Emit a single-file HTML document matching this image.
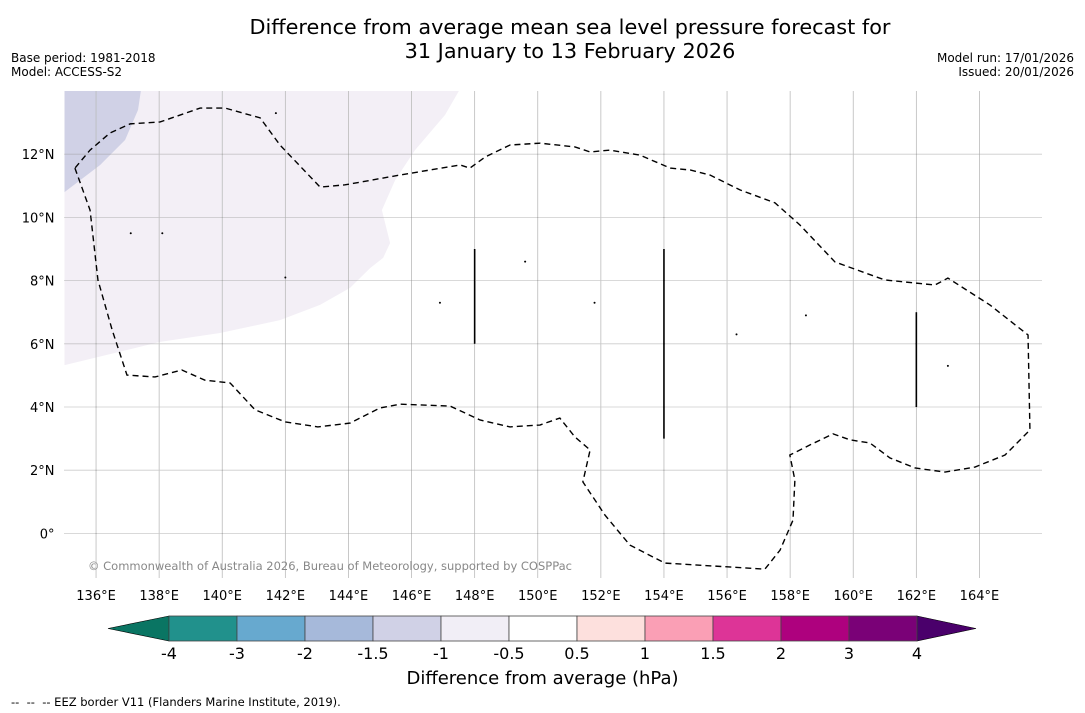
<!DOCTYPE html>
<html><head><meta charset="utf-8"><style>
body{margin:0;background:#fff;font-family:"DejaVu Sans","Liberation Sans",sans-serif;}
.wrap{position:relative;width:1085px;height:713px;overflow:hidden;}
.t{position:absolute;white-space:nowrap;color:#000;}
</style></head><body>
<div class="wrap">
<div class="t" style="left:0;width:1140px;top:15px;text-align:center;font-size:20.8px;line-height:24px;">Difference from average mean sea level pressure forecast for<br>31 January to 13 February 2026</div>
<div class="t" style="left:11px;top:51px;font-size:12px;line-height:14px;">Base period: 1981-2018<br>Model: ACCESS-S2</div>
<div class="t" style="right:11px;top:51px;font-size:12px;line-height:14px;text-align:right;">Model run: 17/01/2026<br>Issued: 20/01/2026</div>
<svg id="map" width="1085" height="713" style="position:absolute;left:0;top:0"></svg>
<div class="t" style="left:0;width:1085px;text-align:center;top:668px;font-size:18px;">Difference from average (hPa)</div>
<div class="t" style="left:11px;top:695px;font-size:11.5px;">--&nbsp; --&nbsp; -- EEZ border V11 (Flanders Marine Institute, 2019).</div>
</div>
<script>
const lonTicks=[136,138,140,142,144,146,148,150,152,154,156,158,160,162,164];
const latTicks=[0,2,4,6,8,10,12];
const lightLon=[147.5,147.06,146.11,145.48,145.06,145.32,145.10,144.69,144.05,143.10,141.83,139.93,138.03,135.02,135,135];
const lightLat=[14,13.24,12.13,11.18,10.23,9.19,8.72,8.40,7.77,7.23,6.75,6.34,6.06,5.33,5.33,14];
const darkLon=[137.42,137.33,136.92,136.13,135,135];
const darkLat=[14,13.40,12.45,11.66,10.80,14];
const eezLon=[135.33,135.81,136.06,136.51,136.98,137.87,138.72,139.45,140.25,141.04,141.99,143.03,144.05,145.00,145.63,147.22,148.17,149.12,150.07,150.70,151.18,151.66,151.43,152.13,152.92,154.03,157.20,157.68,158.09,158.15,157.99,158.63,159.36,159.90,160.53,161.16,161.96,162.91,163.86,164.81,165.60,165.54,164.33,163.00,162.59,161.00,159.42,158.31,157.52,156.41,155.46,154.83,154.20,153.24,152.29,151.66,151.18,150.07,149.12,148.33,147.85,147.54,145.63,143.89,143.10,141.83,141.20,140.09,139.30,138.03,137.08,136.44,135.81,135.33];
const eezLat=[11.56,10.23,8.02,6.44,5.01,4.95,5.17,4.85,4.76,3.91,3.53,3.37,3.49,3.97,4.09,4.03,3.59,3.37,3.43,3.65,3.05,2.64,1.63,0.58,-0.37,-0.94,-1.13,-0.53,0.42,1.69,2.48,2.80,3.15,2.96,2.86,2.39,2.07,1.94,2.10,2.48,3.27,6.28,7.23,8.08,7.86,8.02,8.59,9.76,10.46,10.87,11.34,11.50,11.56,11.97,12.13,12.07,12.23,12.35,12.29,11.91,11.56,11.66,11.34,11.03,10.96,12.29,13.15,13.46,13.46,13.02,12.96,12.67,12.13,11.56];
const segLon=[148,154,162];
const segLat0=[6,3,4];
const segLat1=[9,9,7];
const islLon=[138.1,141.7,137.1,149.6,151.8,156.3,158.5,163.0,142.0,146.9];
const islLat=[9.5,13.3,9.5,8.6,7.3,6.3,6.9,5.3,8.1,7.3];
const cbLevels=[-4,-3,-2,-1.5,-1,-0.5,0.5,1,1.5,2,3,4];
const cbColors=["#21918c","#67a9cf","#a6b9da","#d0d1e6","#f1eef6","#ffffff","#fde0dd","#fa9fb5","#dd3497","#ae017e","#7a0177"];
const cbLow="#0a7563", cbHigh="#4a006b";

const X0=64.5,Y0=91,X1=1042,Y1=578;
const LON0=135,LAT0=14,PXLON=31.55,PXLAT=31.6;
const xs=l=>X0+(l-LON0)*PXLON, ys=l=>Y0+(LAT0-l)*PXLAT;
const NS="http://www.w3.org/2000/svg";
const svg=document.getElementById('map');
function mk(t,a,p){const e=document.createElementNS(NS,t);for(const k in a)e.setAttribute(k,a[k]);(p||svg).appendChild(e);return e;}
const clip=mk('clipPath',{id:'c'});mk('rect',{x:X0,y:Y0,width:X1-X0,height:Y1-Y0},clip);
const g=mk('g',{'clip-path':'url(#c)'});
function pts(lo,la){return lo.map((v,i)=>xs(v)+','+ys(la[i])).join(' ');}
let e=mk('polygon',{points:pts(lightLon,lightLat),fill:'#f3eff6'},g);


e=mk('polygon',{points:pts(darkLon,darkLat),fill:'#d0d1e6'},g);


lonTicks.forEach(l=>{const x=xs(l);
 e=mk('line',{x1:x,x2:x,y1:Y0,y2:Y1,stroke:'#bbb','stroke-width':0.8},g);
 
 
 e=mk('text',{x:x,y:Y1+22,'text-anchor':'middle','font-size':13,'font-family':'DejaVu Sans, sans-serif'});e.textContent=l+'°E';
 
 });
latTicks.forEach(l=>{const y=ys(l);
 e=mk('line',{x1:X0,x2:X1,y1:y,y2:y,stroke:'#999','stroke-width':0.8,'stroke-dasharray':'1,1'},g);
 
 
 e=mk('text',{x:X0-10,y:y+5,'text-anchor':'end','font-size':13,'font-family':'DejaVu Sans, sans-serif'});e.textContent=l===0?'0°':l+'°N';
 
 });
e=mk('polygon',{points:pts(eezLon,eezLat),fill:'none',stroke:'#000','stroke-width':1.4,'stroke-dasharray':'6,4'},g);


segLon.forEach((l,i)=>{e=mk('line',{x1:xs(l),x2:xs(l),y1:ys(segLat0[i]),y2:ys(segLat1[i]),stroke:'#000','stroke-width':1.6},g);
 
 });
islLon.forEach((l,i)=>{e=mk('circle',{cx:xs(l),cy:ys(islLat[i]),r:1,fill:'#000'},g);
 
 });
e=mk('text',{x:88,y:570,'font-size':11.5,fill:'#888','font-family':'DejaVu Sans, sans-serif','textLength':484},g);e.textContent='© Commonwealth of Australia 2026, Bureau of Meteorology, supported by COSPPac';


const CB0=169,CB1=917,CBY=616,CBH=25;
const cbx=i=>CB0+(CB1-CB0)*i/(cbLevels.length-1);
e=mk('polygon',{points:`${CB0},${CBY} ${108},${CBY+CBH/2} ${CB0},${CBY+CBH}`,fill:cbLow,stroke:'#000','stroke-width':0.6});


e=mk('polygon',{points:`${CB1},${CBY} ${976},${CBY+CBH/2} ${CB1},${CBY+CBH}`,fill:cbHigh,stroke:'#000','stroke-width':0.6});


cbColors.forEach((c,i)=>{e=mk('rect',{x:cbx(i),y:CBY,width:cbx(i+1)-cbx(i),height:CBH,fill:c,stroke:'#444','stroke-width':0.8});
 
 });
cbLevels.forEach((v,i)=>{e=mk('text',{x:cbx(i),y:CBY+CBH+18,'text-anchor':'middle','font-size':16,'font-family':'DejaVu Sans, sans-serif'});e.textContent=v;
 
 });
</script>
</body></html>
